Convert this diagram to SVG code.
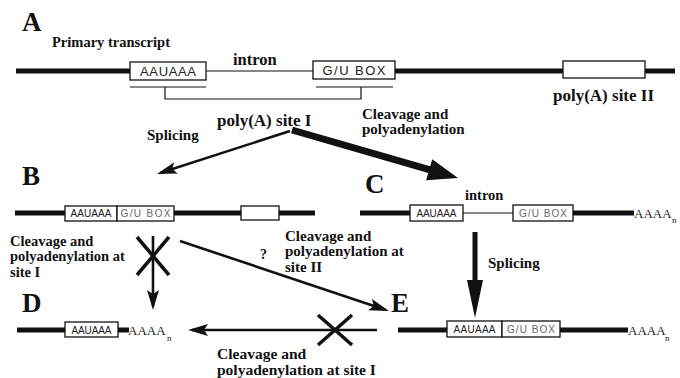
<svg xmlns="http://www.w3.org/2000/svg" width="680" height="378" viewBox="0 0 680 378">
<style>
.lbl{font-family:"Liberation Serif","Times New Roman",serif;font-weight:bold;fill:#111}
.big{font-family:"Liberation Serif","Times New Roman",serif;font-weight:bold;font-size:27px;fill:#111}
.box{fill:#fff;stroke:#111;stroke-width:1.3}
.thick{stroke:#111;stroke-width:5;fill:none}
.thin{stroke:#111;stroke-width:1.2;fill:none}
.bt{font-family:"Liberation Sans",Arial,sans-serif;fill:#222;text-anchor:middle}
.gu{fill:#666}
.tail{font-family:"Liberation Serif","Times New Roman",serif;font-size:13px;fill:#222}
.sub{font-family:"Liberation Serif","Times New Roman",serif;font-size:9px;fill:#222}
.arr{stroke:#111;stroke-width:2.6;fill:none;marker-end:url(#ah)}
.x{stroke:#111;stroke-width:3.5;fill:none}
</style>
<defs>
<marker id="ah" markerUnits="userSpaceOnUse" markerWidth="22" markerHeight="14" refX="16" refY="6" orient="auto" viewBox="0 0 22 14">
<path d="M0,0 L20,6 L0,12 L4,6 z" fill="#111"/>
</marker>
</defs>

<g id="rowA">
<text class="big" x="22" y="31">A</text>
<text class="lbl" x="52" y="47" font-size="14.5">Primary transcript</text>
<line class="thick" x1="16" y1="71" x2="130" y2="71"/>
<line class="thin" x1="206" y1="71" x2="313" y2="71"/>
<line class="thick" x1="395" y1="71" x2="563" y2="71"/>
<line class="thick" x1="645" y1="71" x2="675" y2="71"/>
<rect class="box" x="130" y="62" width="76" height="18"/>
<rect class="box" x="313" y="61" width="82" height="18"/>
<rect class="box" x="563" y="61" width="82" height="17"/>
<text class="bt" x="168" y="76" font-size="13" textLength="56" lengthAdjust="spacing">AAUAAA</text>
<text class="bt" x="354" y="75" font-size="13" textLength="63" lengthAdjust="spacing">G/U  BOX</text>
<text class="lbl" x="233" y="65" font-size="16.5">intron</text>
<line class="thin" x1="130" y1="87" x2="206" y2="87"/>
<line class="thin" x1="316" y1="87" x2="393" y2="87"/>
<polyline class="thin" points="165,87 165,99 361,99 361,87"/>
<text class="lbl" x="217" y="126" font-size="17">poly(A) site I</text>
<text class="lbl" x="553" y="101" font-size="17">poly(A) site II</text>
</g>

<g id="labelsTop">
<text class="lbl" x="147" y="140" font-size="15">Splicing</text>
<text class="lbl" x="362" y="119" font-size="15">Cleavage and</text>
<text class="lbl" x="362" y="134" font-size="15">polyadenylation</text>
</g>

<g id="rowB">
<text class="big" x="22" y="185">B</text>
<line class="thick" x1="15" y1="213" x2="65" y2="213"/>
<line class="thick" x1="174" y1="213" x2="241" y2="213"/>
<line class="thick" x1="279" y1="213" x2="315" y2="213"/>
<rect class="box" x="65" y="206" width="52" height="15"/>
<rect class="box" x="117" y="206" width="57" height="15"/>
<rect class="box" x="241" y="206" width="38" height="14"/>
<text class="bt" x="91" y="217" font-size="10" textLength="41" lengthAdjust="spacing">AAUAAA</text>
<text class="bt gu" x="145.5" y="217" font-size="10" textLength="50" lengthAdjust="spacing">G/U  BOX</text>
</g>

<g id="rowC">
<text class="big" x="365" y="193">C</text>
<text class="lbl" x="465" y="200" font-size="14.5">intron</text>
<line class="thick" x1="360" y1="213" x2="410" y2="213"/>
<line class="thin" x1="463" y1="213" x2="513" y2="213"/>
<line class="thick" x1="573" y1="213" x2="634" y2="213"/>
<rect class="box" x="410" y="205" width="53" height="16"/>
<rect class="box" x="513" y="205" width="60" height="16"/>
<text class="bt" x="436.5" y="217" font-size="10" textLength="40" lengthAdjust="spacing">AAUAAA</text>
<text class="bt gu" x="543" y="217" font-size="10" textLength="48" lengthAdjust="spacing">G/U  BOX</text>
<text class="tail" x="634" y="218">AAAA</text>
<text class="sub" x="672" y="223">n</text>
</g>

<g id="labelsMid">
<text class="lbl" x="10" y="246" font-size="14.5">Cleavage and</text>
<text class="lbl" x="10" y="261" font-size="14.5">polyadenylation at</text>
<text class="lbl" x="10" y="277" font-size="14.5">site I</text>
<text class="lbl" x="285" y="241" font-size="15">Cleavage and</text>
<text class="lbl" x="285" y="256" font-size="15">polyadenylation at</text>
<text class="lbl" x="285" y="272" font-size="15">site II</text>
<text class="lbl" x="260" y="259" font-size="14">?</text>
<text class="lbl" x="488" y="268" font-size="15">Splicing</text>
<text class="lbl" x="217" y="359" font-size="15.5">Cleavage and</text>
<text class="lbl" x="217" y="375" font-size="15.5">polyadenylation at site I</text>
</g>

<g id="rowD">
<text class="big" x="22" y="312">D</text>
<line class="thick" x1="17" y1="330" x2="65" y2="330"/>
<line class="thick" x1="118" y1="330" x2="129" y2="330"/>
<rect class="box" x="65" y="322" width="53" height="15"/>
<text class="bt" x="91.5" y="333.5" font-size="10" textLength="40" lengthAdjust="spacing">AAUAAA</text>
<text class="tail" x="128" y="335">AAAA</text>
<text class="sub" x="167" y="341">n</text>
</g>

<g id="rowE">
<text class="big" x="391" y="312">E</text>
<line class="thick" x1="398" y1="330" x2="447" y2="330"/>
<line class="thick" x1="560" y1="330" x2="628" y2="330"/>
<rect class="box" x="447" y="321" width="55" height="16"/>
<rect class="box" x="502" y="321" width="58" height="16"/>
<text class="bt" x="474.5" y="333" font-size="10" textLength="42" lengthAdjust="spacing">AAUAAA</text>
<text class="bt gu" x="531" y="333" font-size="10" textLength="48" lengthAdjust="spacing">G/U  BOX</text>
<text class="tail" x="628" y="335">AAAA</text>
<text class="sub" x="665" y="341">n</text>
</g>

<g id="connectors">
<line class="arr" x1="290" y1="131" x2="160.8" y2="172.8"/>
<polygon fill="#111" points="292.97,126.64 430.17,166.34 432.26,159.13 458,178 426.14,180.27 428.23,173.06 291.03,133.36"/>
<polygon fill="#111" points="472.5,232 477.5,232 477.5,280 483,280 475,318 467,280 472.5,280"/>
<line class="arr" x1="153" y1="236" x2="153" y2="306"/>
<line class="x" x1="137" y1="237" x2="169" y2="275"/>
<line class="x" x1="169" y1="237" x2="137" y2="275"/>
<line class="arr" x1="180" y1="241" x2="385.2" y2="309.7"/>
<line class="arr" x1="377" y1="330" x2="192" y2="330"/>
<line class="x" x1="318" y1="315" x2="352" y2="345"/>
<line class="x" x1="352" y1="315" x2="318" y2="345"/>
</g>
</svg>
